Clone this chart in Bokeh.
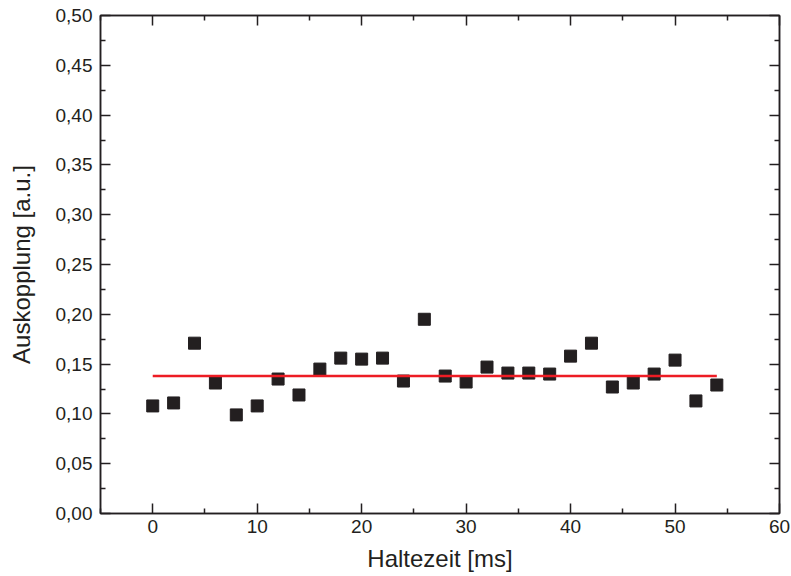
from bokeh.plotting import figure
from bokeh.models import LinearAxis, FixedTicker, CustomJSTickFormatter, Range1d, ColumnDataSource
from bokeh.embed import file_html
from bokeh.resources import INLINE

# data
haltezeit = [0, 2, 4, 6, 8, 10, 12, 14, 16, 18, 20, 22, 24, 26,
             28, 30, 32, 34, 36, 38, 40, 42, 44, 46, 48, 50, 52, 54]
auskopplung = [0.108, 0.111, 0.171, 0.131, 0.099, 0.108, 0.135, 0.119, 0.145, 0.156,
               0.155, 0.156, 0.133, 0.195, 0.138, 0.132, 0.147, 0.141, 0.141, 0.140,
               0.158, 0.171, 0.127, 0.131, 0.140, 0.154, 0.113, 0.129]
fit_x = [0, 54]
fit_y = [0.138, 0.138]
x_ticks = [0, 10, 20, 30, 40, 50, 60]
x_minor = [-5, 5, 15, 25, 35, 45, 55]
y_ticks = [0.0, 0.05, 0.10, 0.15, 0.20, 0.25, 0.30, 0.35, 0.40, 0.45, 0.50]
y_minor = [0.025, 0.075, 0.125, 0.175, 0.225, 0.275, 0.325, 0.375, 0.425, 0.475]
x_label = "Haltezeit [ms]"
y_label = "Auskopplung [a.u.]"

DARK = "#231f20"
FONT = "Liberation Sans"

p = figure(width=791, height=576, output_backend="svg", toolbar_location=None,
           x_range=Range1d(-5, 60), y_range=Range1d(0, 0.5),
           min_border_left=100, min_border_right=12, min_border_top=15, min_border_bottom=63)
p.xgrid.visible = False
p.ygrid.visible = False
p.outline_line_color = DARK
p.outline_line_width = 1.5
p.background_fill_color = "white"
p.border_fill_color = "white"

xt = FixedTicker(ticks=x_ticks, minor_ticks=x_minor)
yt = FixedTicker(ticks=y_ticks, minor_ticks=y_minor)
yfmt = CustomJSTickFormatter(code="return tick.toFixed(2).replace('.', ',');")

def style(ax, labels=True):
    ax.axis_line_color = DARK
    ax.axis_line_width = 1.5
    ax.major_tick_line_color = DARK
    ax.minor_tick_line_color = DARK
    ax.major_tick_line_width = 1.5
    ax.minor_tick_line_width = 1.5
    ax.major_tick_in = 10
    ax.major_tick_out = 0
    ax.minor_tick_in = 5
    ax.minor_tick_out = 0
    ax.major_label_text_font = FONT
    ax.major_label_text_font_size = "19px"
    ax.major_label_text_color = DARK
    ax.axis_label_text_font = FONT
    ax.axis_label_text_font_size = "24px"
    ax.axis_label_text_font_style = "normal"
    ax.axis_label_text_color = DARK
    if not labels:
        ax.major_label_text_font_size = "0px"
        ax.major_label_text_alpha = 0

p.xaxis.ticker = xt
p.yaxis.ticker = yt
p.yaxis.formatter = yfmt
style(p.xaxis[0])
style(p.yaxis[0])
p.xaxis.axis_label = x_label
p.yaxis.axis_label = y_label
p.xaxis.major_label_standoff = 6
p.yaxis.major_label_standoff = 8
p.xaxis.axis_label_standoff = 9
p.yaxis.axis_label_standoff = 18

top = LinearAxis(ticker=FixedTicker(ticks=x_ticks, minor_ticks=x_minor))
style(top, labels=False)
p.add_layout(top, "above")
right = LinearAxis(ticker=FixedTicker(ticks=y_ticks, minor_ticks=y_minor))
style(right, labels=False)
p.add_layout(right, "right")

src = ColumnDataSource(dict(x=haltezeit, y=auskopplung))
p.scatter("x", "y", source=src, marker="square", size=12, fill_color=DARK, line_color=DARK)
p.line(fit_x, fit_y, line_color="#ed1c24", line_width=2.5)

open("out.html", "w").write(file_html(p, INLINE))
